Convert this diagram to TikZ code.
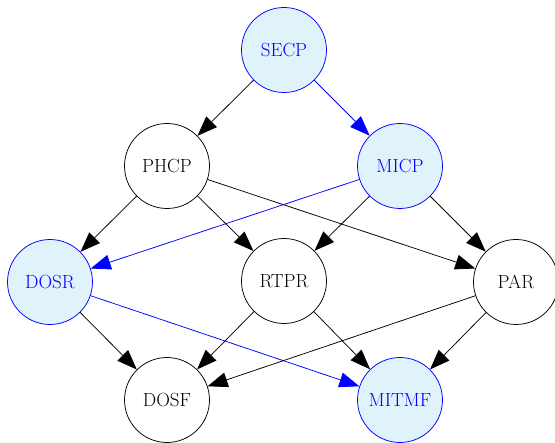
\documentclass[tikz,border=0pt]{standalone}
\usetikzlibrary{arrows.meta}
\definecolor{lightcyan}{RGB}{224,243,250}
\tikzset{
  vert/.style={circle, draw, minimum size=85pt, inner sep=0pt, font=\fontsize{19}{22}\selectfont},
  hot/.style={vert, draw=blue, fill=lightcyan, text=blue},
}
\begin{document}
\begin{tikzpicture}[x=1pt, y=-1pt, line width=0.75pt, >={Triangle[length=20pt,width=15pt]}]
      \useasboundingbox (0,0) rectangle (555,443);
      \draw
        (284,50) node[hot] (SECP){SECP}
        (167,166) node[vert] (PHCP){PHCP}
        (400,166) node[hot] (MICP){MICP}
        (50,282) node[hot] (DOSR){DOSR}
        (284,281) node[vert] (RTPR){RTPR}
        (516,282) node[vert] (PAR){PAR}
        (167,400) node[vert] (DOSF){DOSF}
        (400,400) node[hot] (MITMF){MITMF};
      \begin{scope}[->]
        \draw (SECP) to (PHCP);
        \draw[blue] (SECP) to (MICP);
        \draw (PHCP) to (DOSR);
        \draw (PHCP) to (RTPR);
        \draw (PHCP) to (PAR);
        \draw[blue] (MICP) to (DOSR);
        \draw (MICP) to (RTPR);
        \draw (MICP) to (PAR);
        \draw (DOSR) to (DOSF);
        \draw[blue] (DOSR) to (MITMF);
        \draw (RTPR) to (DOSF);
        \draw (RTPR) to (MITMF);
        \draw (PAR) to (DOSF);
        \draw (PAR) to (MITMF);
      \end{scope}
    \end{tikzpicture}
\end{document}
